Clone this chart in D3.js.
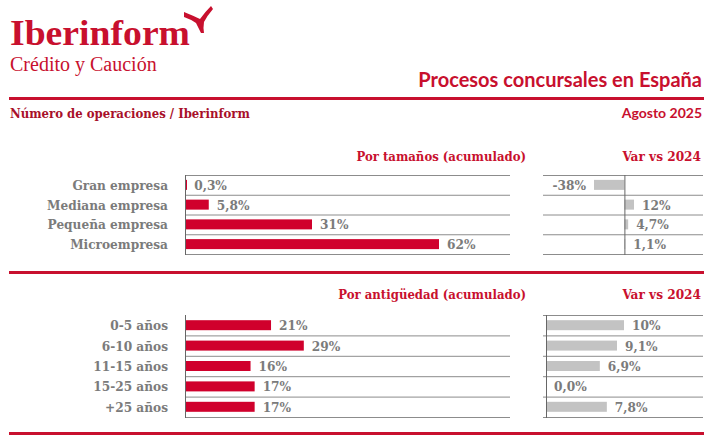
<!DOCTYPE html>
<html>
<head>
<meta charset="utf-8">
<script src="https://cdn.jsdelivr.net/npm/d3@7"></script>
<style>
  body { margin: 0; background: #fff; }
  .slab { font-family: "DejaVu Serif Condensed", "DejaVu Serif", serif; font-stretch: condensed; font-weight: bold; }
  .sans { font-family: "Lato", "Open Sans", sans-serif; font-weight: bold; }
</style>
</head>
<body>
<svg id="chart" width="713" height="443"></svg>
<script>
// Data
var sizeCategories = ["Gran empresa", "Mediana empresa", "Pequeña empresa", "Microempresa"];
var sizeShare = [0.3, 5.8, 31, 62];        // % of cases, accumulated
var sizeVar = [-38, 12, 4.7, 1.1];         // % change vs 2024

var ageCategories = ["0-5 años", "6-10 años", "11-15 años", "15-25 años", "+25 años"];
var ageShare = [21, 29, 16, 17, 17];
var ageVar = [10, 9.1, 6.9, 0.0, 7.8];

var RED = "#d0002c";
var TITLE_RED = "#c8102e";
var GREY_TXT = "#7b7b7b";
var GREY_BAR = "#c3c3c3";
var LINE = "#8c8c8c";

var es = d3.formatLocale({ decimal: ",", thousands: ".", grouping: [3], currency: ["", "€"], minus: "-" });
var fmtPct = v => (Math.abs(v) < 10 ? es.format(".1f")(v) : es.format(".0f")(v)) + "%";

var svg = d3.select("#chart");

// ---- header / logo ----
svg.append("text")
  .attr("x", 10).attr("y", 45)
  .attr("textLength", 180).attr("lengthAdjust", "spacingAndGlyphs")
  .style("font-family", "Liberation Serif, serif").style("font-weight", "bold")
  .style("font-size", "35px").attr("fill", TITLE_RED)
  .text("Iberinform");
// the little wing over the logo
svg.append("path")
  .attr("d", "M184,12 Q194,16 200,19 Q205,12 211,6 L213,9 Q207,16 204,22 Q203,28 204,33 L201,33 Q198,27 196,23 Q190,19 184,17 Z")
  .attr("fill", TITLE_RED);
svg.append("text")
  .attr("x", 10).attr("y", 71)
  .style("font-family", "Liberation Serif, serif")
  .style("font-size", "20px").attr("fill", TITLE_RED)
  .text("Crédito y Caución");

svg.append("text").attr("class", "sans")
  .attr("x", 702).attr("y", 87).attr("text-anchor", "end")
  .style("font-size", "20px").attr("fill", TITLE_RED)
  .text("Procesos concursales en España");

var redRule = function(y) {
  svg.append("rect").attr("x", 9).attr("y", y).attr("width", 695).attr("height", 3).attr("fill", TITLE_RED);
};
redRule(97);
redRule(271);
redRule(432);

svg.append("text").attr("class", "slab")
  .attr("x", 10).attr("y", 118)
  .style("font-size", "13px").attr("fill", "#a8102a")
  .text("Número de operaciones / Iberinform");
svg.append("text").attr("class", "sans")
  .attr("x", 702).attr("y", 118).attr("text-anchor", "end")
  .style("font-size", "14px").attr("fill", TITLE_RED)
  .text("Agosto 2025");

// common scale for the share bars of both blocks
var xShare = d3.scaleLinear().domain([0, 62]).range([185, 439]);

// Draw one block: left share bars + right variation bars
var drawBlock = function(opts) {
  var y = d3.scaleBand().domain(opts.categories).range([opts.top, opts.bottom]);
  var rows = opts.categories.map((c, i) => ({ cat: c, share: opts.share[i], change: opts.change[i] }));
  var bh = 10;

  // headings
  svg.append("text").attr("class", "slab")
    .attr("x", 526).attr("y", opts.headY).attr("text-anchor", "end")
    .style("font-size", "13px").attr("fill", TITLE_RED)
    .text(opts.heading);
  svg.append("text").attr("class", "slab")
    .attr("x", 701).attr("y", opts.headY).attr("text-anchor", "end")
    .style("font-size", "13.5px").attr("fill", TITLE_RED)
    .text("Var vs 2024");

  var g = svg.append("g");

  // row separators, left chart
  var leftLines = opts.leftTopLine ? [opts.top].concat(rows.map(d => y(d.cat) + y.bandwidth())) : rows.map(d => y(d.cat) + y.bandwidth());
  g.selectAll("line.sepL").data(leftLines).join("line")
    .attr("x1", 185).attr("x2", 510).attr("y1", d => d + 0.5).attr("y2", d => d + 0.5)
    .attr("stroke", LINE).attr("stroke-width", 1);
  // row separators, right chart
  var rightLines = [opts.top].concat(rows.map(d => y(d.cat) + y.bandwidth()));
  g.selectAll("line.sepR").data(rightLines).join("line")
    .attr("x1", 543).attr("x2", 703).attr("y1", d => d + 0.5).attr("y2", d => d + 0.5)
    .attr("stroke", LINE).attr("stroke-width", 1);

  // category labels
  g.selectAll("text.cat").data(rows).join("text").attr("class", "slab")
    .attr("x", 168).attr("y", d => y(d.cat) + y.bandwidth() / 2 + 5)
    .attr("text-anchor", "end").style("font-size", "13.5px").attr("fill", GREY_TXT)
    .text(d => d.cat);

  // share bars
  g.selectAll("rect.share").data(rows).join("rect")
    .attr("x", xShare(0) + 1).attr("y", d => y(d.cat) + (y.bandwidth() - bh) / 2)
    .attr("width", d => Math.max(1, xShare(d.share) - xShare(0) - 1)).attr("height", bh)
    .attr("fill", RED);
  g.selectAll("text.shareLbl").data(rows).join("text").attr("class", "slab")
    .attr("x", d => xShare(d.share) + 8).attr("y", d => y(d.cat) + y.bandwidth() / 2 + 5)
    .style("font-size", "13.5px").attr("fill", GREY_TXT)
    .text(d => fmtPct(d.share));

  // variation bars
  var xv = opts.xVar;
  g.selectAll("rect.var").data(rows).join("rect")
    .attr("x", d => Math.min(xv(0), xv(d.change))).attr("y", d => y(d.cat) + (y.bandwidth() - bh) / 2)
    .attr("width", d => Math.abs(xv(d.change) - xv(0))).attr("height", bh)
    .attr("fill", GREY_BAR);
  g.selectAll("text.varLbl").data(rows).join("text").attr("class", "slab")
    .attr("x", d => d.change < 0 ? xv(d.change) - 8 : xv(d.change) + 8)
    .attr("text-anchor", d => d.change < 0 ? "end" : "start")
    .attr("y", d => y(d.cat) + y.bandwidth() / 2 + 5)
    .style("font-size", "13.5px").attr("fill", GREY_TXT)
    .text(d => fmtPct(d.change));

  // baselines
  g.append("line").attr("x1", 185.5).attr("x2", 185.5).attr("y1", opts.top).attr("y2", opts.bottom + 1)
    .attr("stroke", "#666").attr("stroke-width", 1);
  g.append("line").attr("x1", xv(0) + 0.5).attr("x2", xv(0) + 0.5).attr("y1", opts.top).attr("y2", opts.bottom + 1)
    .attr("stroke", "#666").attr("stroke-width", 1);
};

drawBlock({
  categories: sizeCategories, share: sizeShare, change: sizeVar,
  heading: "Por tamaños (acumulado)", headY: 161,
  top: 175, bottom: 254, leftTopLine: true,
  xVar: d3.scaleLinear().domain([-38, 12]).range([594, 634])
});

drawBlock({
  categories: ageCategories, share: ageShare, change: ageVar,
  heading: "Por antigüedad (acumulado)", headY: 299,
  top: 315, bottom: 417, leftTopLine: false,
  xVar: d3.scaleLinear().domain([0, 10]).range([546, 624])
});
</script>
</body>
</html>
